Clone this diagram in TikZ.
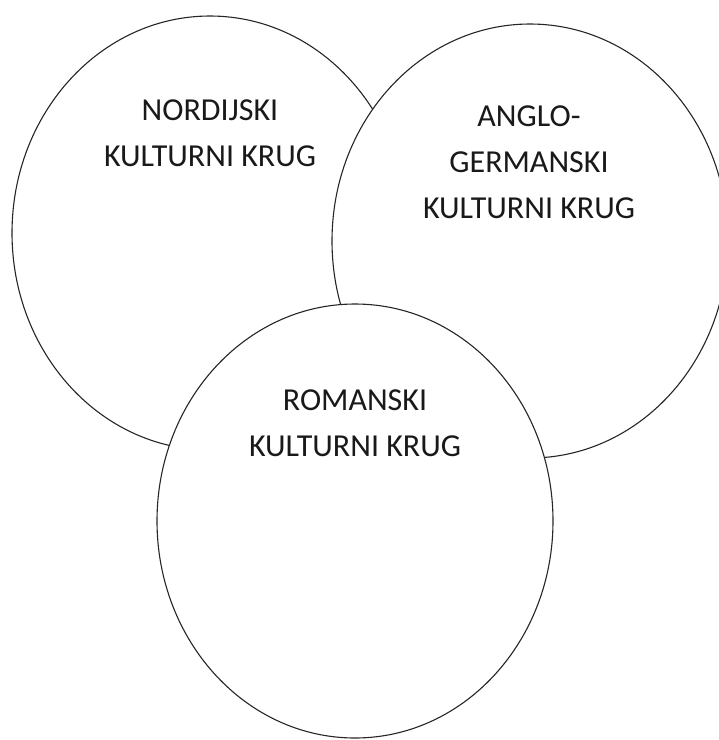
\documentclass[tikz,border=0pt]{standalone}
\usepackage{fontspec}
\setmainfont{Carlito}
\usetikzlibrary{shapes.geometric}
\begin{document}
\begin{tikzpicture}[x=1pt,y=-1pt,
  circ/.style={ellipse, draw=black!85, line width=1.1pt, fill=white, inner sep=0pt,
    minimum width=396pt, minimum height=434pt},
  lbl/.style={align=center, anchor=base, font=\fontsize{32}{46}\selectfont, text=black!90}]
\useasboundingbox (0,0) rectangle (719,740);
\clip (0,0) rectangle (719,740);
\node[circ] (nord) at (210,233) {};
\node[lbl] (tnord) at (210,166.5) {NORDIJSKI\\KULTURNI KRUG};
\node[circ] (anglo) at (530,241) {};
\node[lbl] (tanglo) at (529,218) {ANGLO-\\GERMANSKI\\KULTURNI KRUG};
\node[circ] (rom) at (355,521) {};
\node[lbl] (trom) at (355,456) {ROMANSKI\\KULTURNI KRUG};
\end{tikzpicture}
\end{document}
